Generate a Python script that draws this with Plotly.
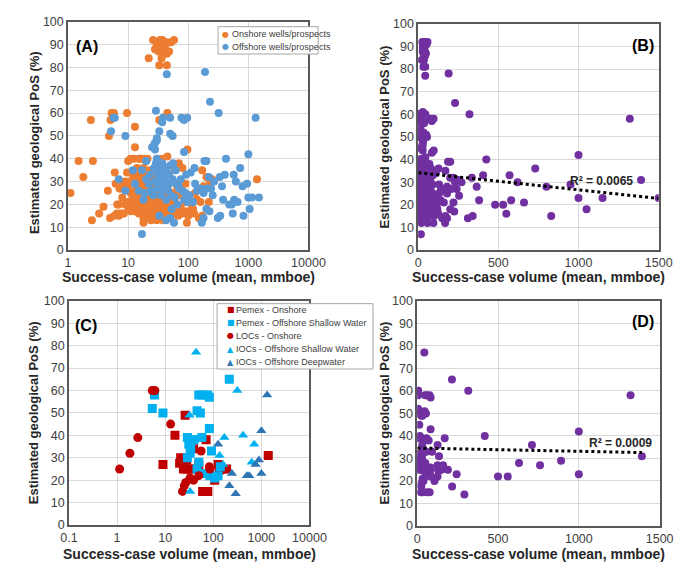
import plotly.graph_objects as go

# ---- panel A / B data: success-case volume (mmboe) vs geological PoS (%)
onshore_x = [26, 30, 33, 35, 37, 40, 42, 45, 48, 52, 58, 28, 32, 38, 44, 36, 22, 33, 44, 30, 34,
             1.1, 1.5, 1.8, 2.4, 2.6, 2.5, 3.3, 3.9, 4.6, 4.8, 5, 5.3, 5.8, 5.1, 5.9, 6.2, 6, 6.6,
             7.2, 7.2, 8.5, 9.6, 10, 9.6, 13, 13, 11, 12.5, 16, 14, 45, 33, 97, 1390, 170, 200,
             230, 250, 180, 160, 220, 110, 150, 170, 95, 130, 70, 80, 60, 45,
             9, 9, 10, 10, 10, 11, 11, 11, 12, 12, 12, 13, 13, 13, 13, 14, 14, 14, 15, 15, 15, 15,
             16, 16, 16, 17, 17, 17, 18, 18, 18, 18, 19, 19, 20, 20, 20, 21, 21, 22, 22, 23, 23,
             24, 24, 25, 25, 25, 26, 27, 27, 28, 28, 29, 29, 30, 30, 31, 31, 32, 33, 33, 34, 35,
             35, 36, 36, 38, 38, 40, 40, 42, 42, 44, 45, 46, 48, 50, 52, 55, 55, 58, 60, 62, 65,
             68, 70, 75, 80, 85, 88, 90, 95, 100, 105, 115, 120, 125, 140, 145, 6.5, 7, 8, 9, 8,
             7.5, 8, 7, 17, 19, 21, 15, 20]
onshore_y = [92, 90, 91, 89, 92, 88, 90, 91, 87, 91, 92, 88, 87, 86, 86, 84, 84, 81, 81, 89, 92,
             25, 39, 32, 57, 39, 13, 16, 19, 26, 50, 14, 60, 60, 57, 15, 29, 34, 20,
             27, 16, 16, 60, 39, 34, 54, 45, 40, 40, 40, 32, 60, 57, 44, 31, 35, 32,
             30, 31, 28, 21, 21, 16, 14, 15, 12, 25, 38, 36, 35, 41,
             30, 28, 27, 21, 19, 30, 25, 17, 23, 19, 33, 29, 26, 20, 17, 36, 24, 22, 30, 27, 19, 16,
             34, 25, 21, 31, 28, 18, 36, 23, 14, 12, 26, 20, 30, 17, 33, 24, 15, 28, 19, 35, 22,
             13, 26, 30, 18, 16, 21, 25, 14, 32, 19, 28, 16, 23, 13, 37, 20, 26, 17, 14, 30, 22,
             19, 40, 15, 28, 13, 24, 17, 35, 20, 16, 27, 14, 22, 19, 15, 25, 30, 16, 21, 18, 28,
             15, 24, 19, 16, 25, 21, 29, 17, 15, 24, 20, 18, 16, 22, 27, 16, 15, 16, 20, 29,
             27, 23, 20, 40, 40, 40, 40, 39]

offshore_x = [17, 44, 190, 230, 320, 1320, 5.2, 5.7, 9, 29, 38, 37, 50, 50, 55, 77, 85, 96, 33, 30,
              25, 28, 28, 30, 27, 85, 127, 200, 186, 425, 1000, 730, 620, 405, 335, 570, 365, 800,
              950, 270, 220, 240, 160, 205, 180, 255, 380, 580, 660, 480, 530, 1000, 1150, 1500,
              1050, 830, 550, 310, 340, 200, 225, 180, 168, 58, 43, 50, 33, 66, 85, 98, 120, 90,
              105, 140, 130, 92, 110, 64, 69, 55, 48, 9, 13, 15, 17, 18, 20, 20, 22, 23, 24, 26,
              27, 28, 29, 30, 30, 31, 32, 33, 34, 35, 36, 37, 38, 39, 40, 41, 42, 43, 45, 46, 48,
              50, 52, 53, 56, 60, 62, 70, 75, 80, 7, 12, 19, 6]
offshore_y = [7, 77, 78, 65, 60, 58, 52, 58, 50, 61, 58, 56, 58, 51, 50, 58, 57, 58, 52, 49,
              45, 44, 47, 48, 46, 43, 36, 39, 39, 40, 42, 36, 30, 33, 32, 33, 28, 28,
              29, 30, 32, 27, 27, 27, 25, 24, 22, 22, 21, 20, 20, 23, 23, 23,
              18, 15, 16, 14, 15, 18, 17, 14, 12, 12, 13, 14, 15, 20, 22, 21, 21, 25,
              24, 26, 29, 33, 34, 29, 28, 31, 33, 26, 29, 26, 35, 22, 39, 31, 29, 33, 26, 24,
              36, 30, 38, 40, 27, 34, 32, 36, 29, 24, 31, 38, 34, 27, 32, 36, 30, 22, 34, 26, 29,
              37, 24, 18, 38, 23, 35, 27, 31, 26, 31, 35, 25, 58]

# ---- panel C / D data
pemex_on_x = [9, 16, 21, 20, 23, 24, 27, 31, 28, 26, 39, 71, 50, 60, 77, 126, 133, 107, 190, 1390, 150, 35]
pemex_on_y = [27, 40, 30, 27.5, 29, 25, 25, 25, 29, 49, 34, 38, 27, 15, 15, 27, 24.5, 20, 25, 31, 25, 25]
pemex_off_x = [215, 50, 58, 76, 83, 46, 54, 9, 5.4, 6, 83, 29, 37, 40, 58, 31, 34, 33, 29, 92, 50, 46,
               85, 107, 126, 66, 140]
pemex_off_y = [65, 58, 58, 58, 57, 51, 50, 50, 52, 58, 43, 39, 38, 38, 39, 36, 34, 32, 30, 33, 28, 25,
               22, 21, 22, 23, 26]
loc_on_x = [1.13, 1.85, 2.7, 5.4, 6.1, 13, 56, 33, 25, 27, 23, 39, 50, 83, 85]
loc_on_y = [25, 32, 39, 60, 60, 45, 33, 21, 17.5, 19, 15, 20, 22, 26, 25]
ioc_sw_x = [44, 32, 316, 170, 418, 710, 630, 33, 135, 160]
ioc_sw_y = [77, 49, 60, 39, 40, 36, 28, 15, 31, 27]
ioc_dw_x = [1320, 1000, 126, 244, 216, 292, 560, 500, 890, 760, 1000]
ioc_dw_y = [58, 42, 36, 23, 17.5, 14, 22, 22, 29, 27, 23]

# linear trend lines (intercept, slope) and R² labels
trend_b = (34.2, -0.0076)
trend_d = (34.6, -0.00143)
r2_b = "R² = 0.0065"
r2_d = "R² = 0.0009"

ORANGE = "#ED7D31"
BLUE = "#5B9BD5"
PURPLE = "#7030A0"
DARKRED = "#C00000"
LIGHTBLUE = "#00B0F0"
DARKBLUE = "#2E75B6"
FONT = "Liberation Sans, Arial, sans-serif"

fig = go.Figure()

# (A)
fig.add_trace(go.Scatter(x=onshore_x, y=onshore_y, mode="markers", showlegend=False,
                         marker=dict(color=ORANGE, size=8), xaxis="x", yaxis="y"))
fig.add_trace(go.Scatter(x=offshore_x, y=offshore_y, mode="markers", showlegend=False,
                         marker=dict(color=BLUE, size=8), xaxis="x", yaxis="y"))

# (B)
all_x = onshore_x + offshore_x
all_y = onshore_y + offshore_y
fig.add_trace(go.Scatter(x=all_x, y=all_y, mode="markers", showlegend=False,
                         marker=dict(color=PURPLE, size=8), xaxis="x2", yaxis="y2"))
bx = [min(all_x), max(all_x)]
fig.add_trace(go.Scatter(x=bx, y=[trend_b[0] + trend_b[1] * v for v in bx], mode="lines",
                         showlegend=False, line=dict(color="black", width=3, dash="dot"),
                         xaxis="x2", yaxis="y2"))

# (C)
c_series = [
    ("Pemex - Onshore", pemex_on_x, pemex_on_y, DARKRED, "square", "■"),
    ("Pemex - Offshore Shallow Water", pemex_off_x, pemex_off_y, LIGHTBLUE, "square", "■"),
    ("LOCs - Onshore", loc_on_x, loc_on_y, DARKRED, "circle", "●"),
    ("IOCs - Offshore Shallow Water", ioc_sw_x, ioc_sw_y, LIGHTBLUE, "triangle-up", "▲"),
    ("IOCs - Offshore Deepwater", ioc_dw_x, ioc_dw_y, DARKBLUE, "triangle-up", "▲"),
]
for name, sx, sy, col, sym, _ in c_series:
    fig.add_trace(go.Scatter(x=sx, y=sy, mode="markers", name=name, showlegend=False,
                             marker=dict(color=col, size=9, symbol=sym), xaxis="x3", yaxis="y3"))

# (D)
c_x = pemex_on_x + pemex_off_x + loc_on_x + ioc_sw_x + ioc_dw_x
c_y = pemex_on_y + pemex_off_y + loc_on_y + ioc_sw_y + ioc_dw_y
fig.add_trace(go.Scatter(x=c_x, y=c_y, mode="markers", showlegend=False,
                         marker=dict(color=PURPLE, size=8), xaxis="x4", yaxis="y4"))
dx = [min(c_x), max(c_x)]
fig.add_trace(go.Scatter(x=dx, y=[trend_d[0] + trend_d[1] * v for v in dx], mode="lines",
                         showlegend=False, line=dict(color="black", width=3, dash="dot"),
                         xaxis="x4", yaxis="y4"))

W, H = 685, 565


def px_x(a, b):
    return [a / W, b / W]


def px_y(top, bottom):
    return [1 - bottom / H, 1 - top / H]


axis_style = dict(showline=True, mirror=True, linecolor="#595959", linewidth=1.5,
                  gridcolor="#D9D9D9", gridwidth=1, zeroline=False, ticks="",
                  tickfont=dict(family=FONT, size=12.5, color="#404040"))
yaxis_style = dict(axis_style, range=[0, 100], tickvals=list(range(0, 101, 10)))
log_ticks = [0.1, 1, 10, 100, 1000, 10000]

fig.update_layout(
    width=W, height=H, margin=dict(l=0, r=0, t=0, b=0),
    plot_bgcolor="white", paper_bgcolor="white", showlegend=False,
    font=dict(family=FONT, color="#262626"),
    xaxis=dict(axis_style, domain=px_x(53, 303), type="log", range=[0, 4],
               tickvals=log_ticks[1:], ticktext=[str(v) for v in log_ticks[1:]], anchor="y"),
    yaxis=dict(yaxis_style, domain=px_y(7, 241), anchor="x"),
    xaxis2=dict(axis_style, domain=px_x(417, 667), range=[0, 1500], tickvals=[0, 500, 1000, 1500],
                anchor="y2"),
    yaxis2=dict(yaxis_style, domain=px_y(9, 241), anchor="x2"),
    xaxis3=dict(axis_style, domain=px_x(54, 304), type="log", range=[-1, 4],
                tickvals=log_ticks, ticktext=[str(v) for v in log_ticks], anchor="y3"),
    yaxis3=dict(yaxis_style, domain=px_y(293, 523), anchor="x3"),
    xaxis4=dict(axis_style, domain=px_x(416, 668), range=[0, 1500], tickvals=[0, 500, 1000, 1500],
                anchor="y4"),
    yaxis4=dict(yaxis_style, domain=px_y(293, 524), anchor="x4"),
)

xtitle = "Success-case volume (mean, mmboe)"
ytitle = "Estimated geological PoS (%)"
annots = []
shapes = []
for cx, cy in [(178, 269), (542, 269), (179, 553), (542, 553)]:
    annots.append(dict(text="<b>" + xtitle + "</b>", x=cx / W, y=1 - cy / H, xref="paper", yref="paper",
                       showarrow=False, font=dict(family=FONT, size=14, color="#262626"),
                       xanchor="center", yanchor="middle"))
for cx, cy in [(18, 131), (382, 125), (18, 408), (382, 408)]:
    annots.append(dict(text="<b>" + ytitle + "</b>", x=cx / W, y=1 - cy / H, xref="paper", yref="paper",
                       showarrow=False, font=dict(family=FONT, size=13, color="#262626"), textangle=-90,
                       xanchor="center", yanchor="middle"))
for lab, cx, cy in [("(A)", 73, 32), ("(B)", 651, 31), ("(C)", 72, 318), ("(D)", 651, 314)]:
    annots.append(dict(text="<b>" + lab + "</b>", x=cx / W, y=1 - cy / H, xref="paper", yref="paper",
                       showarrow=False, font=dict(family=FONT, size=16, color="black"),
                       xanchor="center", yanchor="middle"))
annots.append(dict(text="<b>" + r2_b + "</b>", x=1143, y=30.5, xref="x2", yref="y2", showarrow=False,
                   font=dict(family=FONT, size=12, color="#262626")))
annots.append(dict(text="<b>" + r2_d + "</b>", x=1260, y=37, xref="x4", yref="y4", showarrow=False,
                   font=dict(family=FONT, size=12, color="#262626")))


# hand-drawn compact legends (Excel style: small symbol right next to the text)
def add_legend(x0, y0, x1, y1, entries, row0, step, mx, tx):
    shapes.append(dict(type="rect", xref="paper", yref="paper", layer="above",
                       x0=x0 / W, x1=x1 / W, y0=1 - y1 / H, y1=1 - y0 / H,
                       fillcolor="white", line=dict(color="#A6A6A6", width=1)))
    for i, (label, col, glyph) in enumerate(entries):
        yy = 1 - (row0 + i * step) / H
        annots.append(dict(text=glyph, x=mx / W, y=yy, xref="paper", yref="paper", showarrow=False,
                           font=dict(family="DejaVu Sans", size=8, color=col),
                           xanchor="center", yanchor="middle"))
        annots.append(dict(text=label, x=tx / W, y=yy, xref="paper", yref="paper", showarrow=False,
                           font=dict(family=FONT, size=9, color="#404040"),
                           xanchor="left", yanchor="middle"))


add_legend(209, 12, 313, 40,
           [("Onshore wells/prospects", ORANGE, "●"), ("Offshore wells/prospects", BLUE, "●")],
           19.5, 13, 217, 221)
add_legend(208, 296, 370, 363,
           [(name, col, glyph) for name, _, _, col, _, glyph in c_series],
           302, 13.5, 222, 226)

fig.update_layout(annotations=annots, shapes=shapes)

fig.write_html("out.html")
